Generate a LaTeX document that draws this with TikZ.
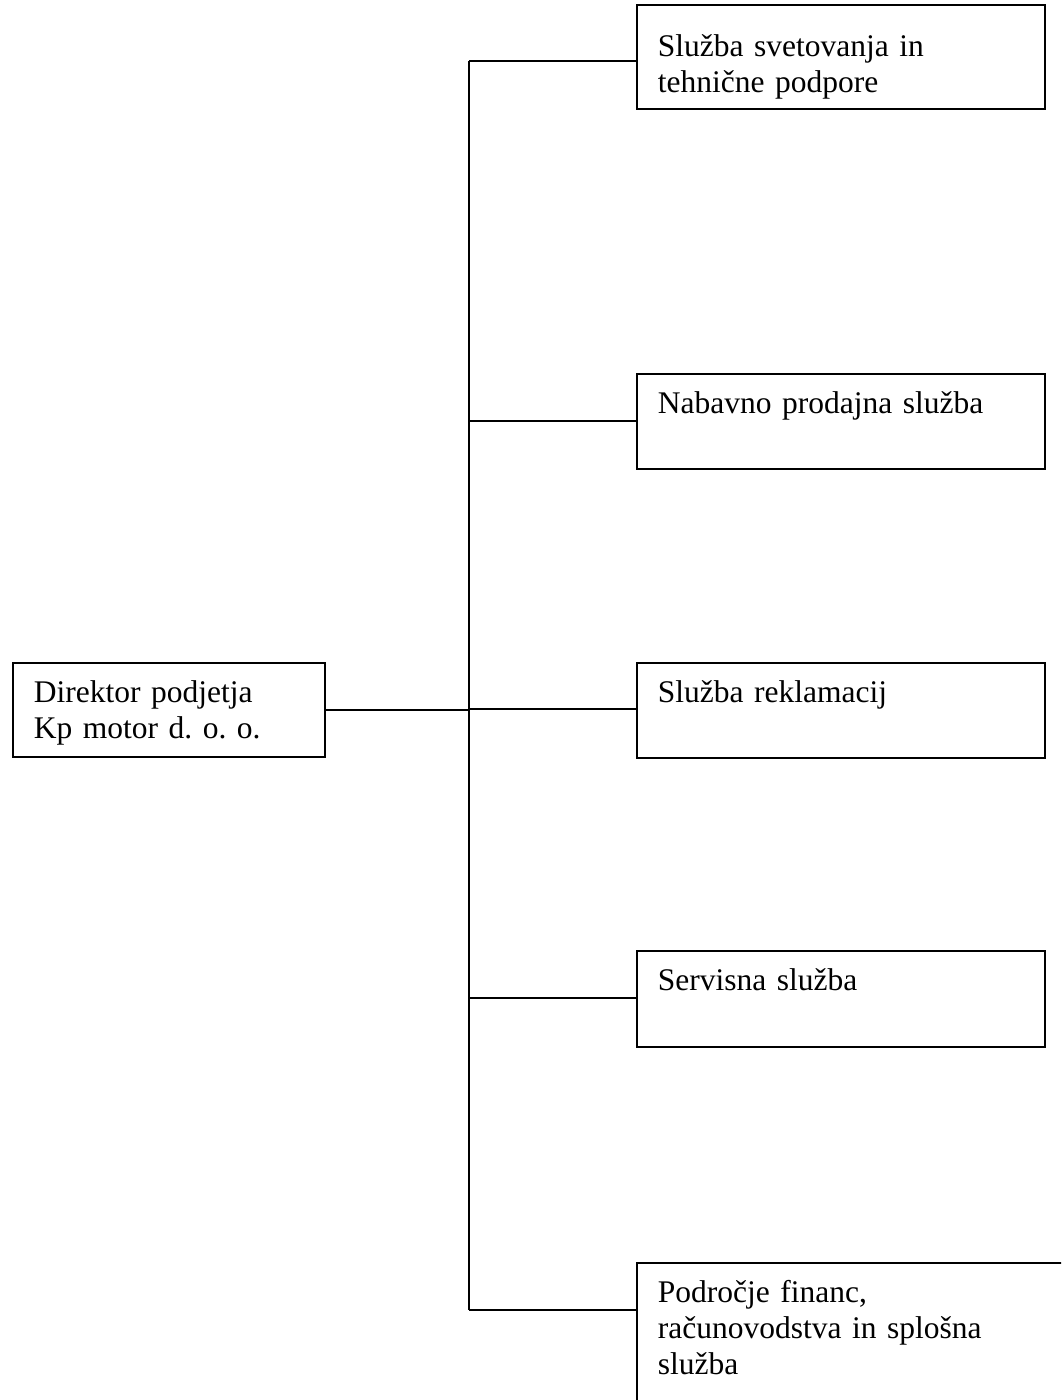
\documentclass[tikz,border=0pt]{standalone}
\usepackage{fontspec}
\setmainfont{Liberation Serif}
\usetikzlibrary{positioning}

\begin{document}
\begin{tikzpicture}[x=0.4pt, y=-0.4pt, line width=0.75pt,
    orgbox/.style={draw, anchor=north west, align=left, inner xsep=8.4pt, inner ysep=0pt,
        text height=16pt, text depth=22pt, font=\fontsize{12.6}{14.4}\selectfont},
    unitbox/.style={orgbox, text width=146.4pt}]
    % Page frame - coordinates are pixels of the page (y grows downwards)
    \useasboundingbox (0,0) rectangle (1061,1400);
    \clip (0,0) rectangle (1061,1400);

    % Director
    \node[orgbox, text width=108pt, text depth=21.6pt] (direktor) at (12,662) {Direktor podjetja\\Kp motor d.\ o.\ o.};

    % Services
    \node[unitbox, text height=20.8pt, text depth=20.8pt] (svet) at (636,4) {Služba svetovanja in\\tehnične podpore};
    \node[unitbox] (nabava) at (636,373) {Nabavno prodajna služba};
    \node[unitbox] (reklam) at (636,662) {Služba reklamacij};
    \node[unitbox, text depth=22.4pt] (servis) at (636,950) {Servisna služba};
    \node[unitbox, text width=160.8pt, text depth=70pt] (finance) at (636,1262) {Področje financ,\\računovodstva in splošna\\služba};

    % Branches off the trunk
    \foreach \y/\unit in {61/svet, 421/nabava, 709/reklam, 998/servis, 1310/finance} {
        \coordinate (t-\unit) at (469,\y);
        \draw (t-\unit) -- (t-\unit -| \unit.west);
    }

    % Trunk and director link
    \draw (t-svet) -- (t-finance);
    \draw (direktor.east) -- (direktor.east -| t-reklam);
\end{tikzpicture}
\end{document}
